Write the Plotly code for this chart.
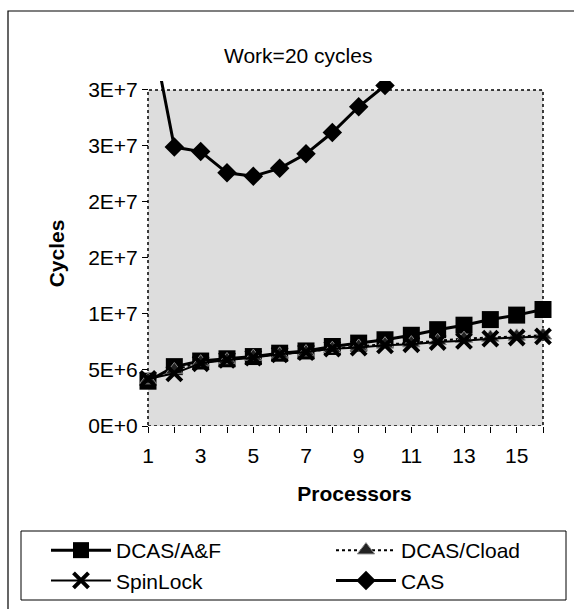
import plotly.graph_objects as go

processors = list(range(1, 17))
dcas_af = [4.0e6, 5.3e6, 5.8e6, 6.0e6, 6.2e6, 6.5e6, 6.7e6, 7.1e6, 7.4e6, 7.7e6, 8.1e6, 8.6e6, 9.0e6, 9.5e6, 9.9e6, 10.4e6]
dcas_cload = [4.1e6, 5.0e6, 5.7e6, 5.9e6, 6.2e6, 6.4e6, 6.6e6, 6.9e6, 7.1e6, 7.3e6, 7.4e6, 7.6e6, 7.8e6, 7.9e6, 8.0e6, 8.1e6]
spinlock = [4.2e6, 4.7e6, 5.6e6, 5.9e6, 6.1e6, 6.4e6, 6.6e6, 6.9e6, 7.0e6, 7.2e6, 7.3e6, 7.5e6, 7.6e6, 7.8e6, 7.9e6, 8.0e6]
cas_x = list(range(1, 11))
cas = [3.7e7, 2.49e7, 2.45e7, 2.26e7, 2.23e7, 2.30e7, 2.43e7, 2.62e7, 2.85e7, 3.04e7]

y_tickvals = [0, 5e6, 1e7, 1.5e7, 2e7, 2.5e7, 3e7]
y_ticktext = ["0E+0", "5E+6", "1E+7", "2E+7", "2E+7", "3E+7", "3E+7"]
x_tickvals = processors
x_ticktext = [str(p) if p % 2 == 1 else "" for p in processors]

FONT = "Liberation Sans, Arial, sans-serif"
W, H = 574, 609
ML, MR, MT, MB = 135, 0, 81, 183
PW = W - ML - MR
PH = H - MT - MB
UNIT = (543 - 148) / 15.0          # px per processor step
X0 = 1 - (148 - ML) / UNIT         # x value at left edge of plot area
X1 = X0 + PW / UNIT

def px_x(px):
    return (px - ML) / PW

def px_y(py):
    return (H - MB - py) / PH

fig = go.Figure()
fig.add_trace(go.Scatter(x=processors, y=dcas_af, name="DCAS/A&F", mode="lines+markers",
                         legend="legend", legendgroup="a",
                         line=dict(color="black", width=3),
                         marker=dict(symbol="square", size=17, color="black")))
fig.add_trace(go.Scatter(x=processors, y=dcas_cload, name="DCAS/Cload", mode="lines+markers",
                         legend="legend2", legendgroup="b",
                         line=dict(color="black", width=2, dash="dot"),
                         marker=dict(symbol="triangle-up", size=15, color="#222",
                                     line=dict(color="#888", width=1))))
fig.add_trace(go.Scatter(x=processors, y=spinlock, name="SpinLock", mode="lines+markers",
                         legend="legend", legendgroup="c",
                         line=dict(color="black", width=2),
                         marker=dict(symbol="x-thin", size=15, color="black",
                                     line=dict(color="black", width=4))))
fig.add_trace(go.Scatter(x=cas_x, y=cas, name="CAS", mode="lines+markers",
                         legend="legend2", legendgroup="d",
                         line=dict(color="black", width=3),
                         marker=dict(symbol="diamond", size=15, color="black")))

# plot (gray) area with dotted border
fig.add_shape(type="rect", xref="x", yref="y", x0=1, x1=16, y0=0, y1=3e7,
              fillcolor="#DDDDDD", line=dict(color="black", width=1.5, dash="dot"), layer="below")
# outer chart border
fig.add_shape(type="rect", xref="paper", yref="paper", x0=px_x(8), x1=px_x(590),
              y0=px_y(620), y1=px_y(11), line=dict(color="black", width=1.2),
              fillcolor="rgba(0,0,0,0)", layer="below")
# legend frame
fig.add_shape(type="rect", xref="paper", yref="paper", x0=px_x(21), x1=px_x(566),
              y0=px_y(600), y1=px_y(531), line=dict(color="black", width=1),
              fillcolor="white", layer="below")

fig.add_annotation(text="Work=20 cycles", xref="paper", yref="paper",
                   x=px_x(298), y=px_y(55), xanchor="center", yanchor="middle",
                   showarrow=False, font=dict(family=FONT, size=21, color="black"))

legend_common = dict(orientation="v", xanchor="left", yanchor="top",
                     borderwidth=0, bgcolor="rgba(0,0,0,0)",
                     font=dict(family=FONT, size=21, color="black"),
                     itemwidth=60, traceorder="normal", tracegroupgap=4)

fig.update_layout(
    width=W, height=H,
    margin=dict(l=ML, r=MR, t=MT, b=MB, pad=0, autoexpand=False),
    paper_bgcolor="white", plot_bgcolor="white",
    font=dict(family=FONT, size=21, color="black"),
    showlegend=True,
    legend=dict(x=px_x(46), y=px_y(530), **legend_common),
    legend2=dict(x=px_x(331), y=px_y(530), **legend_common),
    xaxis=dict(range=[X0, X1], tickmode="array", tickvals=x_tickvals, ticktext=x_ticktext,
               ticks="outside", ticklen=6, tickwidth=1, tickcolor="black",
               showline=False, showgrid=False, zeroline=False, ticklabelstandoff=5,
               title=dict(text="<b>Processors</b>", font=dict(family=FONT, size=21), standoff=20),
               tickfont=dict(family=FONT, size=21)),
    yaxis=dict(range=[0, 3.08e7], tickmode="array", tickvals=y_tickvals, ticktext=y_ticktext,
               anchor="free", position=px_x(148),
               ticks="outside", ticklen=6, tickwidth=1, tickcolor="black",
               showline=False, showgrid=False, zeroline=False,
               title=dict(text="<b>Cycles</b>", font=dict(family=FONT, size=21), standoff=16),
               tickfont=dict(family=FONT, size=21)),
)

fig.write_html("out.html", config={"displayModeBar": False},
               post_script="document.body.style.margin='0';")
